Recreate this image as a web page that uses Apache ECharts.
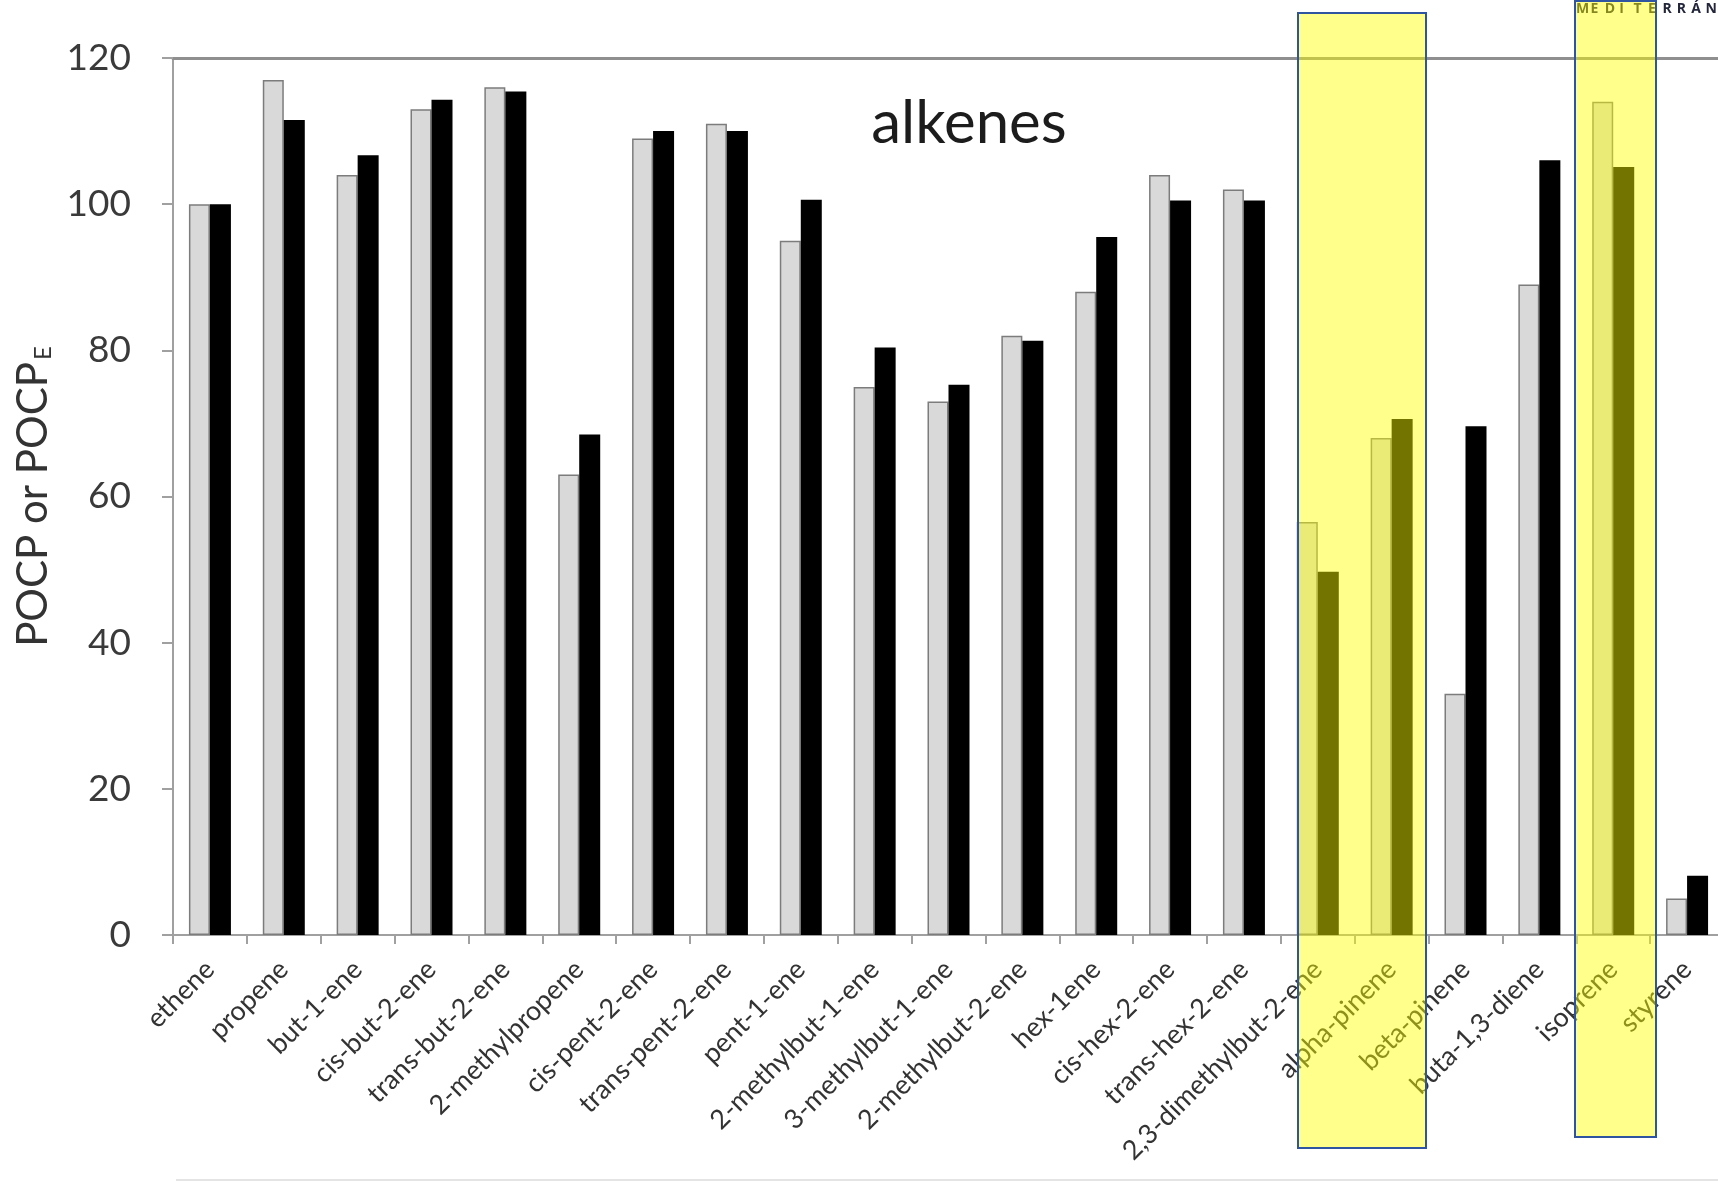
<!DOCTYPE html>
<html>
<head>
<meta charset="utf-8">
<script src="https://cdn.jsdelivr.net/npm/echarts@6/dist/echarts.min.js"></script>
<style>
html,body{margin:0;padding:0;background:#fff;overflow:hidden;}
#chart{width:1740px;height:1182px;}
</style>
</head>
<body>
<div id="chart"></div>
<script>
const categories = ['ethene','propene','but-1-ene','cis-but-2-ene','trans-but-2-ene','2-methylpropene','cis-pent-2-ene','trans-pent-2-ene','pent-1-ene','2-methylbut-1-ene','3-methylbut-1-ene','2-methylbut-2-ene','hex-1ene','cis-hex-2-ene','trans-hex-2-ene','2,3-dimethylbut-2-ene','alpha-pinene','beta-pinene','buta-1,3-diene','isoprene','styrene'];
const pocp  = [100, 117, 104, 113, 116, 63, 109, 111, 95, 75, 73, 82, 88, 104, 102, 56.5, 68, 33, 89, 114, 5];
const pocpE = [100, 111.5, 106.7, 114.3, 115.4, 68.5, 110, 110, 100.6, 80.4, 75.3, 81.3, 95.5, 100.5, 100.5, 49.7, 70.6, 69.6, 106, 105.1, 8.1];
const yMin = 0, yMax = 120, yStep = 20;
const titleText = 'alkenes';
const brandLetters = ['M','E','D','I','T','E','R','R','Á','N'];

const chart = echarts.init(document.getElementById('chart'), null, {renderer:'canvas'});

const graphics = [
  {type:'text', z:50, style:{text:titleText, x:969, y:124, align:'center', verticalAlign:'middle', font:'60px Lato', fill:'#1c1c1c'}},
  {type:'line', z:50, shape:{x1:176, y1:1180, x2:1718, y2:1180}, style:{stroke:'#e4e4e4', lineWidth:2}}
];
brandLetters.forEach(function(ch, i){
  graphics.push({type:'text', z:50, style:{text:ch, x:1576 + i*14.4, y:9, align:'left', verticalAlign:'middle', font:'bold 14px "Open Sans"', fill:'#23263a'}});
});
graphics.push({type:'rect', z:100, shape:{x:1298, y:13, width:128, height:1135}, style:{fill:'rgba(255,255,0,0.45)', stroke:'#2f55a0', lineWidth:2}});
graphics.push({type:'rect', z:100, shape:{x:1575, y:1, width:81, height:1136}, style:{fill:'rgba(255,255,0,0.45)', stroke:'#2f55a0', lineWidth:2}});

const option = {
  animation:false,
  backgroundColor:'#ffffff',
  grid:{left:173, top:58, width:1551, height:877, containLabel:false},
  xAxis:[{
    type:'category', data:categories, position:'bottom',
    axisLine:{show:true, lineStyle:{color:'#a0a0a0', width:2}},
    axisTick:{show:true, length:9, lineStyle:{color:'#a0a0a0', width:2}},
    axisLabel:{interval:0, rotate:45, fontSize:27, fontFamily:'Lato', color:'#333333', margin:30},
    splitLine:{show:false}
  },{
    type:'category', data:categories, position:'top',
    axisLine:{show:true, lineStyle:{color:'#8f8f8f', width:3}},
    axisTick:{show:false}, axisLabel:{show:false}, splitLine:{show:false}
  }],
  yAxis:{
    type:'value', min:yMin, max:yMax, interval:yStep,
    axisLine:{show:true, lineStyle:{color:'#a0a0a0', width:2}},
    axisTick:{show:true, length:11, lineStyle:{color:'#a0a0a0', width:2}},
    splitLine:{show:false},
    axisLabel:{fontSize:37, fontFamily:'Lato', color:'#3a3a3a', margin:42},
    name:'POCP or POCP{sub|E}',
    nameLocation:'middle', nameGap:118, nameRotate:90,
    nameTextStyle:{fontSize:42, fontFamily:'Lato', color:'#333333',
      rich:{sub:{fontSize:24, fontFamily:'Lato', color:'#333333', padding:[20,0,0,2]}}}
  },
  series:[{
    name:'POCP', type:'bar', data:pocp, barWidth:21, barGap:'0%',
    itemStyle:{color:'#d9d9d9', borderColor:'#7c7c7c', borderWidth:1.5}
  },{
    name:'POCPE', type:'bar', data:pocpE, barWidth:21, barGap:'0%',
    itemStyle:{color:'#000000'}
  }],
  graphic:graphics
};
chart.setOption(option);
</script>
</body>
</html>
